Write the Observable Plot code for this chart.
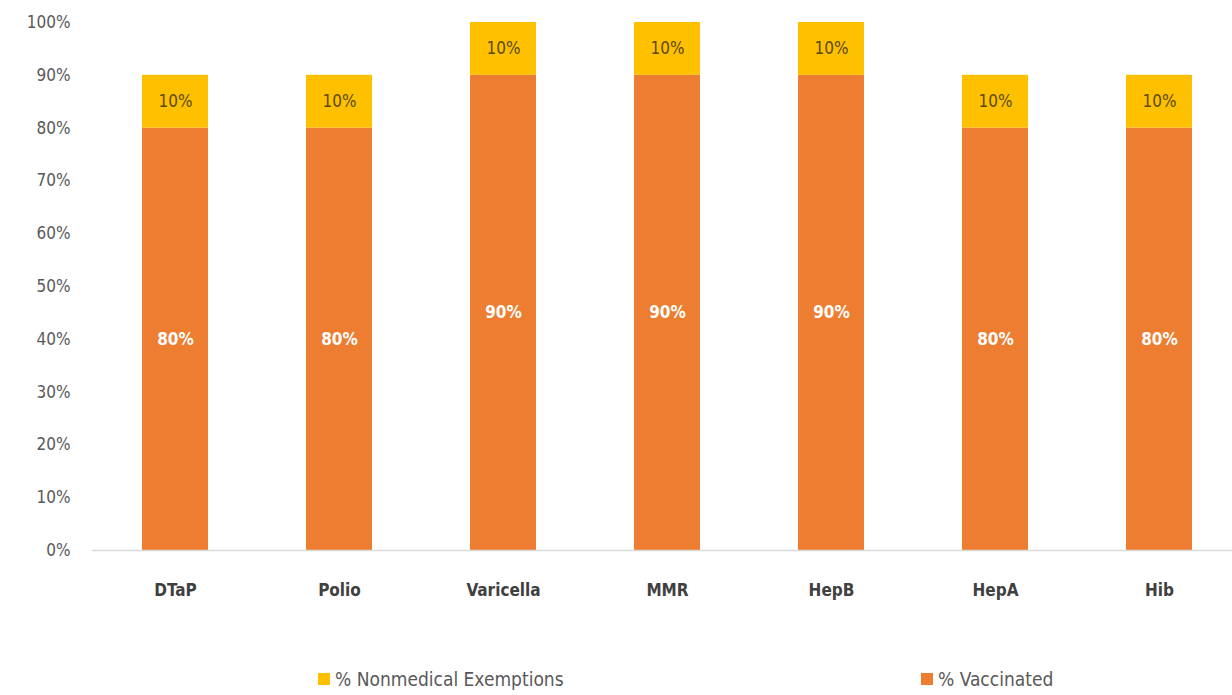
<!DOCTYPE html>
<html>
<head>
<meta charset="utf-8">
<script src="https://cdn.jsdelivr.net/npm/d3@7"></script>
<script src="https://cdn.jsdelivr.net/npm/@observablehq/plot@0.6"></script>
<style>
  body { margin: 0; background: #fff; font-family: "Liberation Sans Narrow", "DejaVu Sans Condensed", "Roboto Condensed", "Liberation Sans", sans-serif; }
  #chart svg { display: block; }
  #legend { position: relative; height: 75px; color: #595959; font-size: 19px; }
  .item { position: absolute; top: 48px; display: flex; align-items: center; }
  .sw { width: 12px; height: 12px; margin-right: 5px; }
</style>
</head>
<body>
<div id="chart"></div>
<div id="legend"></div>
<script>
const categories = ["DTaP", "Polio", "Varicella", "MMR", "HepB", "HepA", "Hib"];
const vaccinated = [80, 80, 90, 90, 90, 80, 80];
const exemptions = [10, 10, 10, 10, 10, 10, 10];
const seriesNames = ["% Vaccinated", "% Nonmedical Exemptions"];
const seriesColors = ["#ED7D31", "#FFC000"];
const yTicks = [0, 10, 20, 30, 40, 50, 60, 70, 80, 90, 100];

const rows = [];
categories.forEach((c, i) => {
  rows.push({cat: c, series: seriesNames[0], value: vaccinated[i]});
  rows.push({cat: c, series: seriesNames[1], value: exemptions[i]});
});

const font = '"Liberation Sans Narrow", "DejaVu Sans Condensed", "Roboto Condensed", "Liberation Sans", sans-serif';

const chart = Plot.plot({
  width: 1232,
  height: 620,
  marginLeft: 92,
  marginRight: -9,
  marginTop: 22,
  marginBottom: 70,
  style: {fontFamily: font, background: "#fff"},
  x: {domain: categories, paddingInner: 0.6, paddingOuter: 0.3, align: 0.5, label: null, tickSize: 0, tickPadding: 33},
  y: {domain: [0, 100], ticks: yTicks, tickFormat: d => d + "%", label: null, tickSize: 0, tickPadding: 22},
  color: {domain: seriesNames, range: seriesColors},
  marks: [
    Plot.axisY({ticks: yTicks, tickFormat: d => d + "%", tickSize: 0, tickPadding: 22, label: null, fontSize: 17, fill: "#595959", color: "#595959"}),
    Plot.axisX({tickSize: 0, tickPadding: 33, label: null, fontSize: 17, fontWeight: "bold", fill: "#404040", color: "#404040"}),
    Plot.barY(rows, Plot.stackY({x: "cat", y: "value", z: "series", fill: "series", order: seriesNames})),
    Plot.ruleY([0], {stroke: "#d9d9d9", strokeWidth: 1.5}),
    Plot.text(rows, Plot.stackY({
      x: "cat", y: "value", z: "series", order: seriesNames,
      text: d => d.series === seriesNames[0] ? d.value + "%" : "",
      fill: "#ffffff", fontWeight: "bold", fontSize: 17
    })),
    Plot.text(rows, Plot.stackY({
      x: "cat", y: "value", z: "series", order: seriesNames,
      text: d => d.series === seriesNames[1] ? d.value + "%" : "",
      fill: "#5a4a10", fontSize: 17
    }))
  ]
});
document.getElementById("chart").appendChild(chart);

const legend = document.getElementById("legend");
const legendOrder = [1, 0];
const legendLeft = [318, 921];
legendOrder.forEach((k, j) => {
  const it = document.createElement("div");
  it.className = "item";
  it.style.left = legendLeft[j] + "px";
  it.innerHTML = `<span class="sw" style="background:${seriesColors[k]}"></span><span>${seriesNames[k]}</span>`;
  legend.appendChild(it);
});
</script>
</body>
</html>
